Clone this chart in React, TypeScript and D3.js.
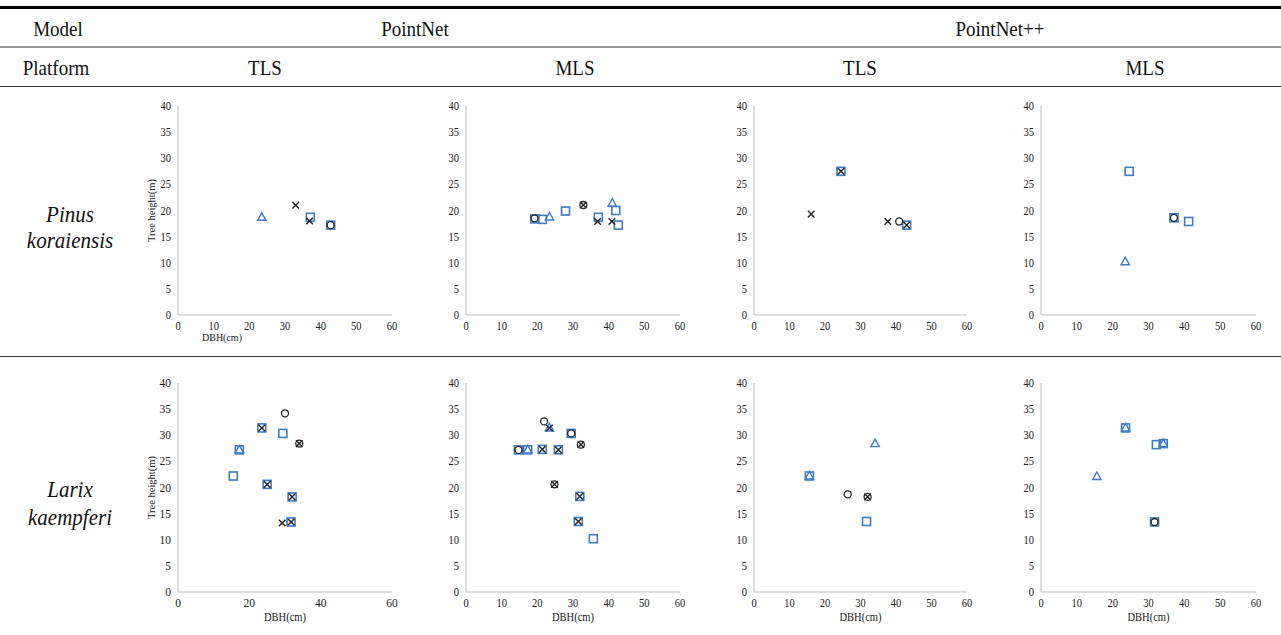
import React from "react";
import * as d3 from "d3";

// each point: [DBH (cm), tree height (m), series]
// series: "sq" = blue square, "tri" = blue triangle, "x" = black cross, "o" = black circle
type Pt = [number, number, string];

const models = ["PointNet", "PointNet++"];
const platforms = ["TLS", "MLS", "TLS", "MLS"];
const species = [["Pinus", "koraiensis"], ["Larix", "kaempferi"]];
const yTicks = [0, 5, 10, 15, 20, 25, 30, 35, 40];
const xTicks = [0, 10, 20, 30, 40, 50, 60];
const xTicksSparse = [0, 20, 40, 60];

const pinusPnTls: Pt[] = [
  [23.5, 18.7, "tri"], [33, 21, "x"], [37.1, 18.7, "sq"], [36.9, 18, "x"],
  [42.8, 17.2, "sq"], [42.8, 17.2, "o"],
];
const pinusPnMls: Pt[] = [
  [19.3, 18.4, "sq"], [19.2, 18.5, "o"], [21.4, 18.3, "sq"], [23.4, 18.75, "tri"],
  [27.9, 19.9, "sq"], [32.9, 21.05, "o"], [32.9, 21.05, "x"], [37.1, 18.7, "sq"],
  [36.9, 17.9, "x"], [41.0, 21.4, "tri"], [40.9, 17.9, "x"], [42.0, 20.0, "sq"],
  [42.7, 17.2, "sq"],
];
const pinusPn2Tls: Pt[] = [
  [24.5, 27.5, "sq"], [24.5, 27.5, "x"], [16.1, 19.3, "x"], [37.7, 17.9, "x"],
  [40.9, 17.9, "o"], [43.0, 17.2, "sq"], [43.0, 17.2, "x"],
];
const pinusPn2Mls: Pt[] = [
  [24.6, 27.5, "sq"], [37.1, 18.6, "sq"], [37.1, 18.6, "o"], [41.2, 17.9, "sq"],
  [23.5, 10.2, "tri"],
];
const larixPnTls: Pt[] = [
  [30.0, 34.2, "o"], [23.5, 31.4, "sq"], [23.5, 31.4, "x"], [29.4, 30.35, "sq"],
  [34.0, 28.4, "o"], [34.0, 28.4, "x"], [17.2, 27.2, "sq"], [17.2, 27.2, "tri"],
  [15.5, 22.2, "sq"], [25.0, 20.6, "sq"], [25.0, 20.6, "x"], [32.0, 18.2, "sq"],
  [32.0, 18.2, "x"], [29.2, 13.2, "x"], [31.7, 13.4, "sq"], [31.7, 13.4, "x"],
];
const larixPnMls: Pt[] = [
  [21.9, 32.65, "o"], [23.4, 31.4, "tri"], [23.4, 31.4, "x"], [29.5, 30.35, "sq"],
  [29.5, 30.35, "o"], [32.2, 28.2, "o"], [32.2, 28.2, "x"], [14.7, 27.2, "sq"],
  [14.7, 27.2, "o"], [17.3, 27.2, "sq"], [17.3, 27.2, "tri"], [21.4, 27.3, "sq"],
  [21.4, 27.3, "x"], [25.9, 27.2, "sq"], [25.9, 27.2, "x"], [24.8, 20.6, "o"],
  [24.8, 20.6, "x"], [31.9, 18.3, "sq"], [31.9, 18.3, "x"], [31.5, 13.5, "sq"],
  [31.5, 13.5, "x"], [35.7, 10.2, "sq"],
];
const larixPn2Tls: Pt[] = [
  [34.1, 28.4, "tri"], [15.6, 22.2, "sq"], [15.6, 22.2, "tri"], [26.4, 18.7, "o"],
  [32.0, 18.2, "o"], [32.0, 18.2, "x"], [31.7, 13.5, "sq"],
];
const larixPn2Mls: Pt[] = [
  [23.6, 31.4, "sq"], [23.6, 31.4, "tri"], [32.2, 28.2, "sq"], [34.1, 28.4, "sq"],
  [34.1, 28.4, "tri"], [15.6, 22.1, "tri"], [31.7, 13.4, "sq"], [31.7, 13.4, "o"],
];

const panelData = [
  [pinusPnTls, pinusPnMls, pinusPn2Tls, pinusPn2Mls],
  [larixPnTls, larixPnMls, larixPn2Tls, larixPn2Mls],
];

const W = 1281, H = 635;
const BLUE = "#3f7cc4";
const AXIS = "#bdbdbd";
const SERIF = "'Liberation Serif', 'Times New Roman', serif";
const colX: [number, number][] = [[178, 392], [466, 680], [754, 967], [1041, 1256]];
const rowY: [number, number][] = [[315, 106], [592, 383]];
const order = ["sq", "tri", "o", "x"];

const Marker = ({ x, y, s }: { x: number; y: number; s: string }) => {
  if (s === "sq")
    return <rect x={x - 4} y={y - 4} width={8} height={8} fill="none" stroke={BLUE} strokeWidth={1.6} />;
  if (s === "tri") {
    const p = d3.path();
    p.moveTo(x, y - 4.5); p.lineTo(x + 4.2, y + 3); p.lineTo(x - 4.2, y + 3); p.closePath();
    return <path d={p.toString()} fill="none" stroke={BLUE} strokeWidth={1.4} />;
  }
  if (s === "o")
    return <circle cx={x} cy={y} r={3.5} fill="none" stroke="#222" strokeWidth={1.3} />;
  return (
    <path d={`M${x - 3.3},${y - 3.3}L${x + 3.3},${y + 3.3}M${x + 3.3},${y - 3.3}L${x - 3.3},${y + 3.3}`}
      stroke="#222" strokeWidth={1.4} />
  );
};

// tall serif text, like the stretched glyphs in the source table
const Tall = ({ x, y, children, k = 1.15 }: { x: number; y: number; children: React.ReactNode; k?: number }) => (
  <text transform={`translate(${x},${y}) scale(1,${k})`}>{children}</text>
);

const Panel = ({ data, ci, ri }: { data: Pt[]; ci: number; ri: number }) => {
  const x = d3.scaleLinear().domain([0, 60]).range(colX[ci]);
  const y = d3.scaleLinear().domain([0, 40]).range(rowY[ri]);
  const ticks = ci === 0 && ri === 1 ? xTicksSparse : xTicks;
  const fs = ci === 0 && ri === 1 ? 11.5 : 10.5;
  const sorted = [...data].sort((a, b) => order.indexOf(a[2]) - order.indexOf(b[2]));
  return (
    <g fontFamily={SERIF} fill="#222">
      <line x1={x(0)} x2={x(0)} y1={y(0)} y2={y(40)} stroke={AXIS} />
      <line x1={x(0)} x2={x(60)} y1={y(0)} y2={y(0)} stroke={AXIS} />
      <g fontSize={fs} textAnchor="end">
        {yTicks.map((t) => (
          <Tall key={t} x={x(0) - 7} y={y(t) + 4} k={1.1}>{t}</Tall>
        ))}
      </g>
      <g fontSize={fs} textAnchor="middle">
        {ticks.map((t) => (
          <Tall key={t} x={x(t)} y={y(0) + 15} k={1.1}>{t}</Tall>
        ))}
      </g>
      {ci === 0 && (
        <text transform={`translate(${x(0) - 23},${(y(0) + y(40)) / 2}) rotate(-90)`}
          textAnchor="middle" fontSize={10.5}>Tree height(m)</text>
      )}
      {ri === 1 && (
        <g fontSize={10.5} textAnchor="middle">
          <Tall x={(x(0) + x(60)) / 2} y={y(0) + 29} k={1.1}>DBH(cm)</Tall>
        </g>
      )}
      {ri === 0 && ci === 0 && (
        <g fontSize={10} textAnchor="middle">
          <Tall x={222} y={y(0) + 26} k={1.1}>DBH(cm)</Tall>
        </g>
      )}
      {sorted.map((d, i) => (
        <Marker key={i} x={x(d[0])} y={y(d[1])} s={d[2]} />
      ))}
    </g>
  );
};

export default function App() {
  const colCenter = [265, 575, 860, 1145];
  return (
    <svg width={W} height={H} style={{ position: "absolute", left: 0, top: 0, background: "#fff" }}>
      <rect width={W} height={H} fill="#fff" />
      <line x1={0} x2={W} y1={7.5} y2={7.5} stroke="#000" strokeWidth={3} />
      <line x1={0} x2={W} y1={47} y2={47} stroke="#333" strokeWidth={1} />
      <line x1={0} x2={W} y1={86.5} y2={86.5} stroke="#333" strokeWidth={1} />
      <line x1={0} x2={W} y1={356.5} y2={356.5} stroke="#333" strokeWidth={1} />
      <g fontFamily={SERIF} fontSize={19} fill="#111" textAnchor="middle">
        <Tall x={58} y={36}>Model</Tall>
        <Tall x={415} y={36}>{models[0]}</Tall>
        <Tall x={1000} y={36}>{models[1]}</Tall>
        <Tall x={56} y={75}>Platform</Tall>
        {platforms.map((p, i) => (
          <Tall key={i} x={colCenter[i]} y={75}>{p}</Tall>
        ))}
      </g>
      <g fontFamily={SERIF} fontSize={21} fontStyle="italic" fill="#111" textAnchor="middle">
        {species.map((s, i) => (
          <g key={i}>
            <Tall x={70} y={i === 0 ? 222 : 497} k={1.1}>{s[0]}</Tall>
            <Tall x={70} y={i === 0 ? 248 : 525} k={1.1}>{s[1]}</Tall>
          </g>
        ))}
      </g>
      {panelData.map((row, ri) =>
        row.map((data, ci) => <Panel key={`${ri}-${ci}`} data={data} ci={ci} ri={ri} />)
      )}
    </svg>
  );
}
